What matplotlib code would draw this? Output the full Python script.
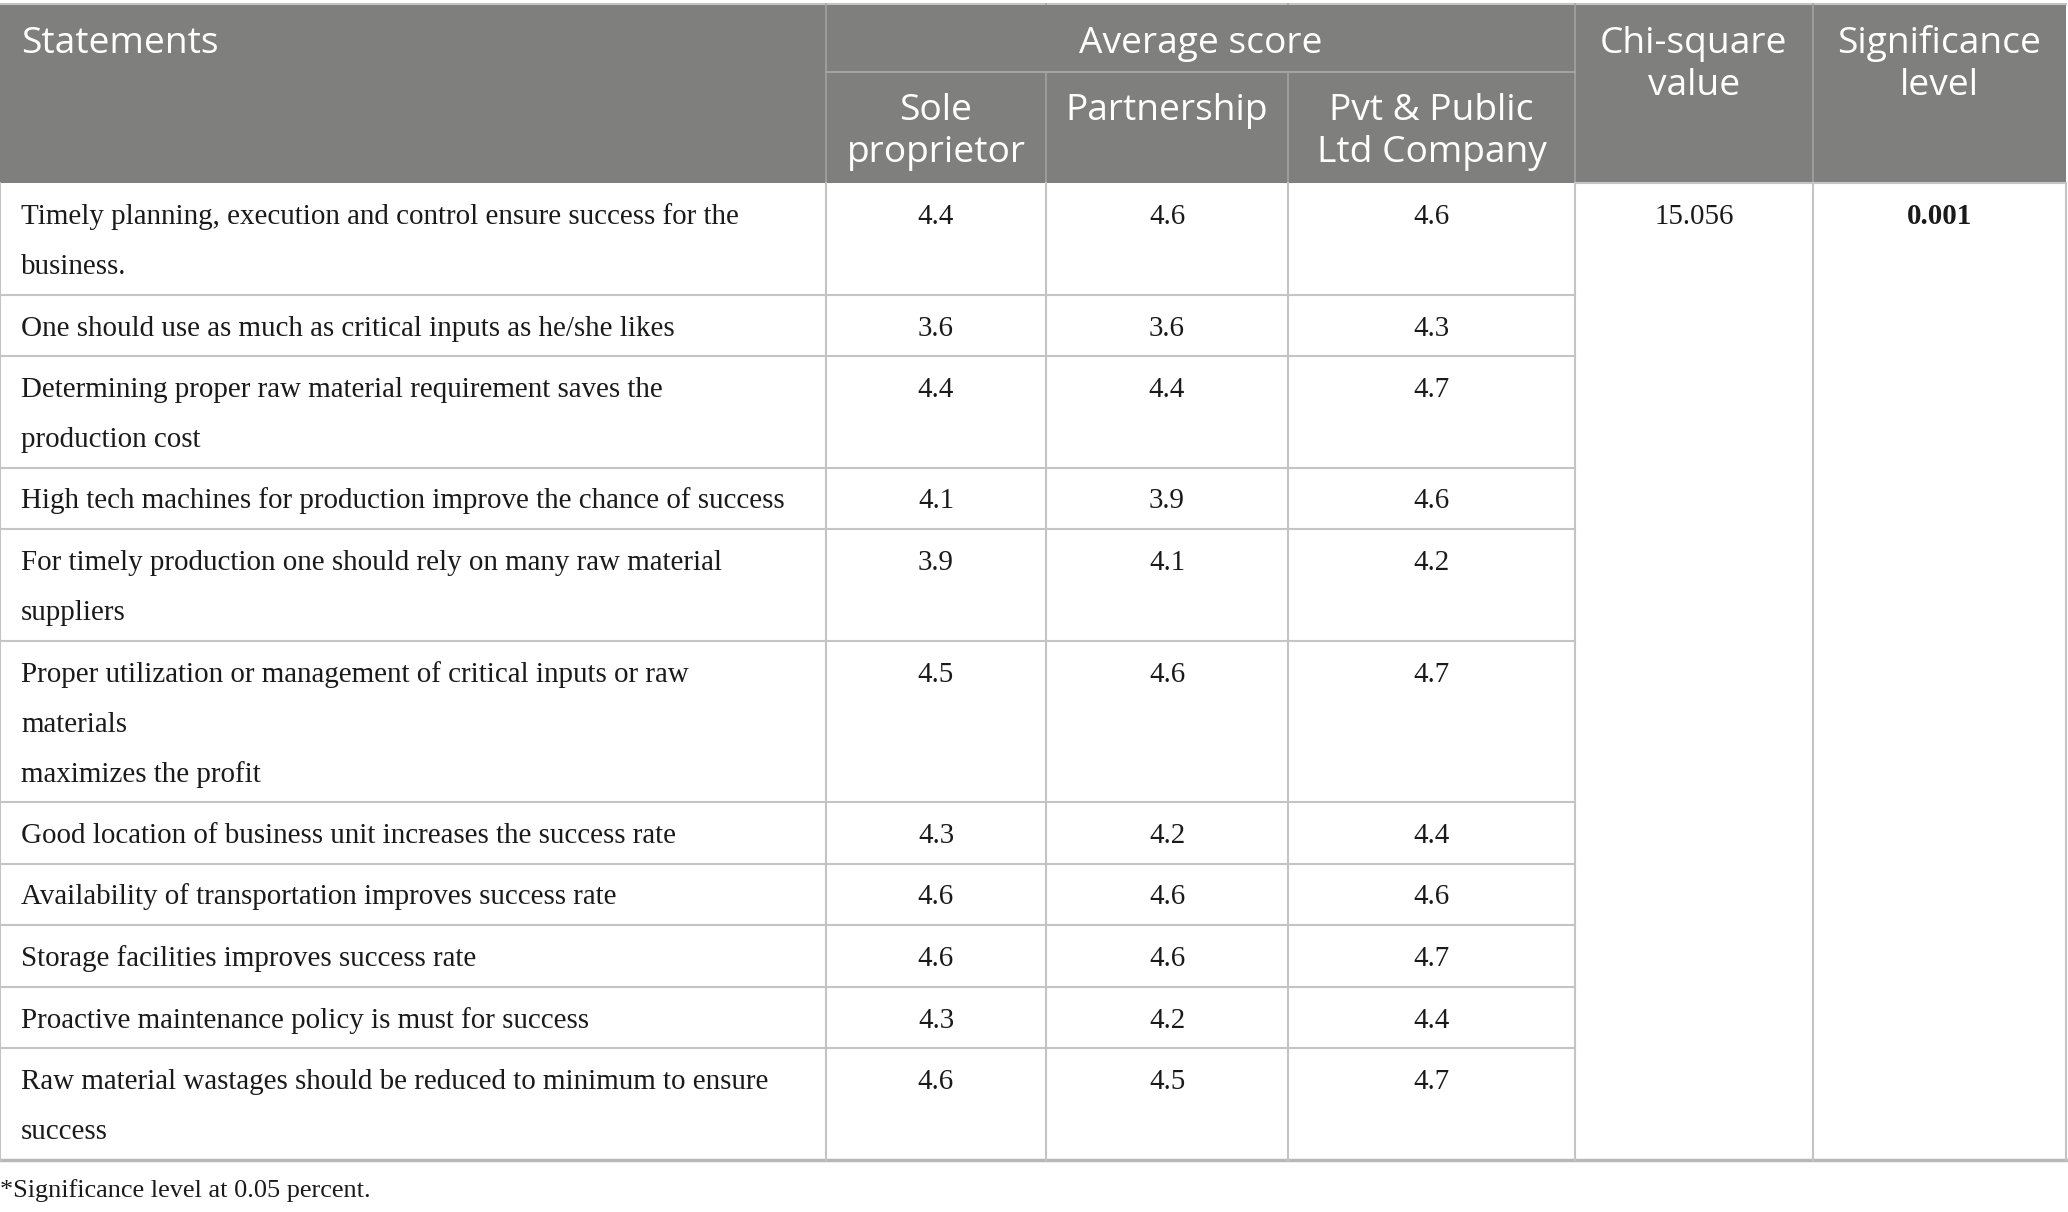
import matplotlib.pyplot as plt
from matplotlib.patches import Rectangle

# Table content
statements = [
    "Timely planning, execution and control ensure success for the\nbusiness.",
    "One should use as much as critical inputs as he/she likes",
    "Determining proper raw material requirement saves the\nproduction cost",
    "High tech machines for production improve the chance of success",
    "For timely production one should rely on many raw material\nsuppliers",
    "Proper utilization or management of critical inputs or raw\nmaterials\nmaximizes the profit",
    "Good location of business unit increases the success rate",
    "Availability of transportation improves success rate",
    "Storage facilities improves success rate",
    "Proactive maintenance policy is must for success",
    "Raw material wastages should be reduced to minimum to ensure\nsuccess",
]
sole = [4.4, 3.6, 4.4, 4.1, 3.9, 4.5, 4.3, 4.6, 4.6, 4.3, 4.6]
partnership = [4.6, 3.6, 4.4, 3.9, 4.1, 4.6, 4.2, 4.6, 4.6, 4.2, 4.5]
company = [4.6, 4.3, 4.7, 4.6, 4.2, 4.7, 4.4, 4.6, 4.7, 4.4, 4.7]
chi_square = "15.056"
significance = "0.001"
sub_headers = ["Sole\nproprietor", "Partnership", "Pvt & Public\nLtd Company"]
footnote = "*Significance level at 0.05 percent."

W, H = 2068, 1212
col_x = [0, 826, 1046, 1288, 1575, 1813, 2066]
head_top, head_mid, head_bot = 4, 72, 183
line_h = 50
head_line_h = 42

HEAD_BG = "#7f807e"
GRID = "#c4c4c4"
HEAD_LINE = "#a3a4a2"

fig = plt.figure(figsize=(W / 100, H / 100), dpi=100)
ax = fig.add_axes([0, 0, 1, 1])
ax.set_xlim(0, W)
ax.set_ylim(H, 0)
ax.axis("off")

hfont = dict(family="Open Sans", color="white", fontsize=26.7)
bfont = dict(family="Liberation Serif", color="#1a1a1a", fontsize=20.9)


def head_text(x, base, label, ha="center"):
    for k, line in enumerate(label.split("\n")):
        ax.text(x, base + k * head_line_h, line, ha=ha, va="baseline", zorder=3, **hfont)


# header block
ax.add_patch(Rectangle((0, head_top), col_x[-1], head_bot - head_top,
                       facecolor=HEAD_BG, edgecolor="none"))
ax.plot([0, col_x[-1]], [head_top, head_top], color=GRID, lw=1.5)
for x in col_x[1:-1]:
    ax.plot([x, x], [head_top, head_bot], color=HEAD_LINE, lw=1.2)
ax.plot([col_x[1], col_x[4]], [head_mid, head_mid], color=HEAD_LINE, lw=1.5)
# merged "Average score" cell hides the inner column lines
ax.add_patch(Rectangle((col_x[1] + 1, head_top + 1), col_x[4] - col_x[1] - 2,
                       head_mid - head_top - 2, facecolor=HEAD_BG, edgecolor="none", zorder=2))

head_text(21, 53, "Statements", ha="left")
head_text((col_x[1] + col_x[4]) / 2, 53, "Average score")
for i, lab in enumerate(sub_headers):
    head_text((col_x[i + 1] + col_x[i + 2]) / 2, 120, lab)
head_text((col_x[4] + col_x[5]) / 2, 53, "Chi-square\nvalue")
head_text((col_x[5] + col_x[6]) / 2, 53, "Significance\nlevel")

# body rows
y = head_bot
for i, s in enumerate(statements):
    n = s.count("\n") + 1
    h = 11.5 + line_h * n
    for k, line in enumerate(s.split("\n")):
        ax.text(21, y + 41 + k * line_h, line, ha="left", va="baseline", **bfont)
    for j, vals in enumerate([sole, partnership, company]):
        xc = (col_x[j + 1] + col_x[j + 2]) / 2
        ax.text(xc, y + 41, f"{vals[i]:.1f}", ha="center", va="baseline", **bfont)
    if i == 0:
        ax.text((col_x[4] + col_x[5]) / 2, y + 41, chi_square, ha="center", va="baseline", **bfont)
        ax.text((col_x[5] + col_x[6]) / 2, y + 41, significance, ha="center", va="baseline",
                fontweight="bold", **bfont)
    y_next = y + h
    last = i == len(statements) - 1
    ax.plot([0, col_x[4] if not last else col_x[-1]], [y_next, y_next],
            color=GRID if not last else "#b8b8b8", lw=1.5 if not last else 2.5)
    y = y_next
body_bot = y
ax.plot([col_x[4], col_x[-1]], [head_bot, head_bot], color=GRID, lw=1.5)
for x in col_x:
    ax.plot([x, x], [head_bot, body_bot], color=GRID, lw=1.5)

ax.text(0, body_bot + 37, footnote, ha="left", va="baseline",
        family="Liberation Serif", color="#1a1a1a", fontsize=18.9)

fig.savefig("out.png", dpi=100)
